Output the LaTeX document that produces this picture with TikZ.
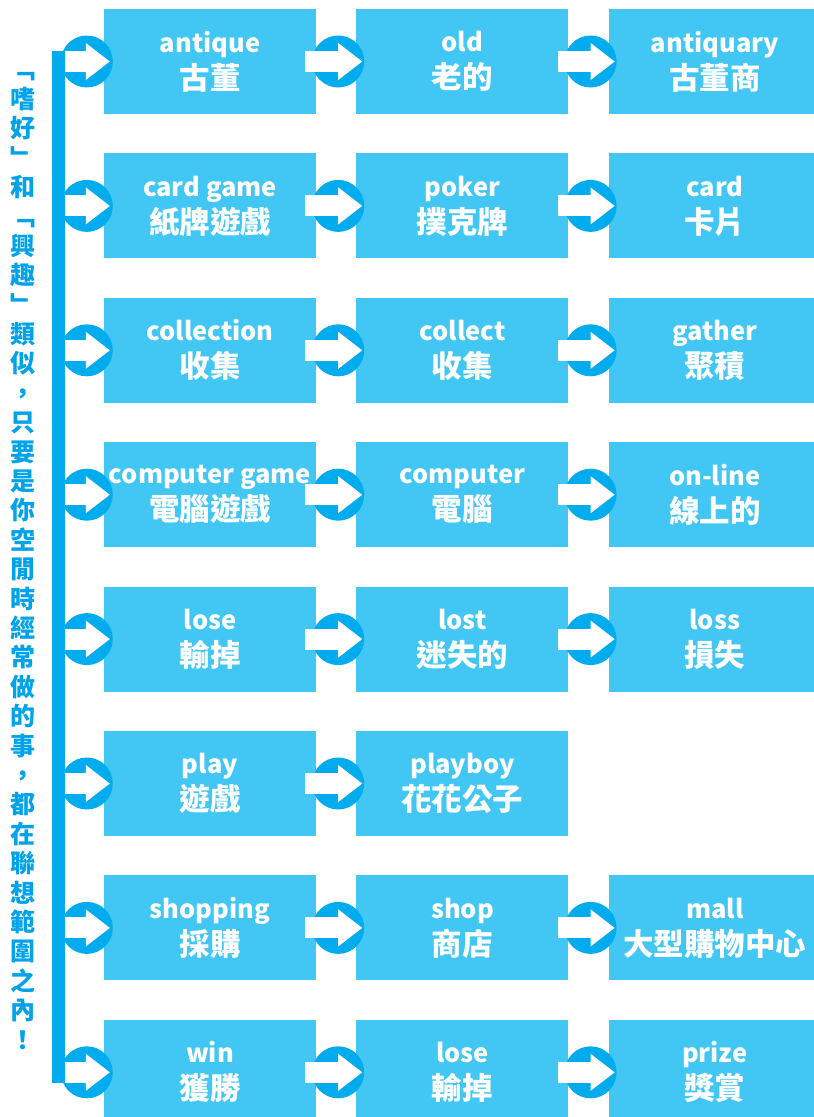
\documentclass[tikz,border=0pt]{standalone}
\usepackage{fontspec}
\setmainfont{Noto Sans CJK TC}
\usepackage{tikz}
\usetikzlibrary{arrows.meta, positioning}
\usepackage{xcolor}
\definecolor{boxblue}{RGB}{66,199,244}
\definecolor{ringblue}{RGB}{0,172,237}
\definecolor{textblue}{RGB}{0,163,233}
\newcommand{\zhword}[1]{{\fontsize{30.5}{30}\selectfont\bfseries #1}}

\begin{document}
\begin{tikzpicture}[
    x=1pt, y=-1pt,
    node distance=39pt and 40pt,
    every node/.style={font=\fontsize{25.5}{37}\selectfont\bfseries},
    word/.style={fill=boxblue, text=white, minimum width=212pt, minimum height=105pt, inner sep=0pt, align=center},
    ring/.style={circle, fill=ringblue, minimum size=52pt, inner sep=0pt},
    fatarrow/.style={draw=white, line width=21pt, -{Triangle[width=37pt, length=24pt, line width=0pt]}, shorten >=-6pt},
    sidetext/.style={text=textblue, align=center, inner sep=0pt, font=\fontsize{25}{29.4}\selectfont\bfseries}
]
\clip (0,0) rectangle (814,1117);

% word boxes, one row per theme
\node[word] (b11) at (210,61.5) {antique\\\zhword{古董}};
\node[word, right=of b11] (b12) {old\\\zhword{老的}};
\node[word, right=of b12] (b13) {antiquary\\\zhword{古董商}};

\node[word, below=of b11] (b21) {card game\\\zhword{紙牌遊戲}};
\node[word, right=of b21] (b22) {poker\\\zhword{撲克牌}};
\node[word, right=of b22] (b23) {card\\\zhword{卡片}};

\node[word, below=of b21] (b31) {collection\\\zhword{收集}};
\node[word, right=of b31] (b32) {collect\\\zhword{收集}};
\node[word, right=of b32] (b33) {gather\\\zhword{聚積}};

\node[word, below=of b31] (b41) {computer game\\\zhword{電腦遊戲}};
\node[word, right=of b41] (b42) {computer\\\zhword{電腦}};
\node[word, right=of b42] (b43) {on-line\\\zhword{線上的}};

\node[word, below=of b41] (b51) {lose\\\zhword{輸掉}};
\node[word, right=of b51] (b52) {lost\\\zhword{迷失的}};
\node[word, right=of b52] (b53) {loss\\\zhword{損失}};

\node[word, below=of b51] (b61) {play\\\zhword{遊戲}};
\node[word, right=of b61] (b62) {playboy\\\zhword{花花公子}};

\node[word, below=of b61] (b71) {shopping\\\zhword{採購}};
\node[word, right=of b71] (b72) {shop\\\zhword{商店}};
\node[word, right=of b72] (b73) {mall\\\zhword{大型購物中心}};

\node[word, below=of b71] (b81) {win\\\zhword{獲勝}};
\node[word, right=of b81] (b82) {lose\\\zhword{輸掉}};
\node[word, right=of b82] (b83) {prize\\\zhword{獎賞}};

% left bar
\coordinate (barN) at ([xshift=-52pt, yshift=10.5pt]b11.west);
\coordinate (barS) at ([xshift=-39pt, yshift=-10.5pt]b81.west);
\fill[ringblue] (barN) rectangle (barS);

% arrows from the bar into the first column
\foreach \r in {1,...,8} {
    \node[ring] (r\r1) at ([xshift=-17pt]b\r1.west) {};
    \draw[fatarrow] (barS |- b\r1.west) -- (b\r1.west);
}

% arrows between the columns
\foreach \r/\a/\b in {1/1/2, 1/2/3, 2/1/2, 2/2/3, 3/1/2, 3/2/3, 4/1/2, 4/2/3,
                      5/1/2, 5/2/3, 6/1/2, 7/1/2, 7/2/3, 8/1/2, 8/2/3} {
    \node[ring] (r\r\b) at ([xshift=-18pt]b\r\b.west) {};
    \draw[fatarrow, shorten <=-11pt] (b\r\a.east) -- (b\r\b.west);
}

% side note
\node[sidetext] (note) at (23,561) {﹁\\嗜\\好\\﹂\\和\\﹁\\興\\趣\\﹂\\類\\似\\，\\只\\要\\是\\你\\空\\閒\\時\\經\\常\\做\\的\\事\\，\\都\\在\\聯\\想\\範\\圍\\之\\內\\！};
\end{tikzpicture}
\end{document}
